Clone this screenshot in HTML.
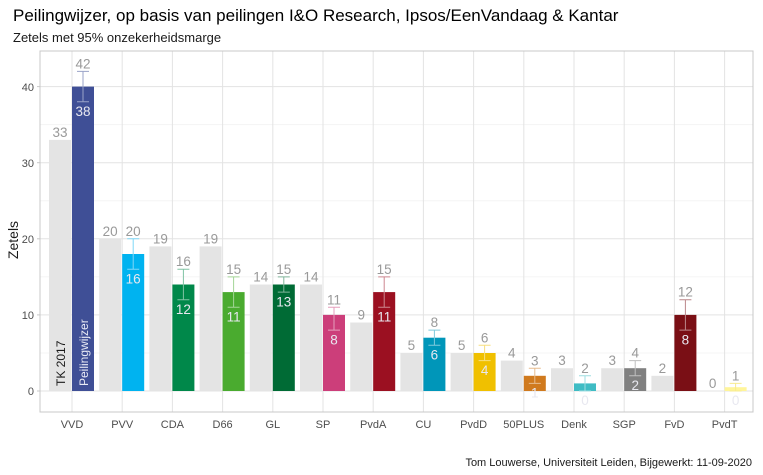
<!DOCTYPE html>
<html><head><meta charset="utf-8"><style>
body{margin:0;background:#fff;width:763px;height:475px;overflow:hidden}
svg{display:block;font-family:"Liberation Sans",Arial,sans-serif}
</style></head><body>
<svg width="763" height="475" viewBox="0 0 763 475">
<text x="13" y="21" font-size="17" fill="#000">Peilingwijzer, op basis van peilingen I&amp;O Research, Ipsos/EenVandaag &amp; Kantar</text>
<text x="13" y="42" font-size="13" fill="#1a1a1a">Zetels met 95% onzekerheidsmarge</text>
<rect x="40" y="51" width="713" height="361" fill="#fff"/>
<g stroke="#f2f2f2" stroke-width="0.8">
<line x1="40" x2="753" y1="353" y2="353"/><line x1="40" x2="753" y1="276.9" y2="276.9"/><line x1="40" x2="753" y1="200.8" y2="200.8"/><line x1="40" x2="753" y1="124.7" y2="124.7"/>
</g>
<g stroke="#e3e3e3" stroke-width="1">
<line x1="40" x2="753" y1="391" y2="391"/><line x1="40" x2="753" y1="314.9" y2="314.9"/><line x1="40" x2="753" y1="238.8" y2="238.8"/><line x1="40" x2="753" y1="162.7" y2="162.7"/><line x1="40" x2="753" y1="86.6" y2="86.6"/>
<line x1="72" x2="72" y1="51" y2="412"/><line x1="122.2" x2="122.2" y1="51" y2="412"/><line x1="172.4" x2="172.4" y1="51" y2="412"/><line x1="222.6" x2="222.6" y1="51" y2="412"/><line x1="272.8" x2="272.8" y1="51" y2="412"/><line x1="323" x2="323" y1="51" y2="412"/><line x1="373.2" x2="373.2" y1="51" y2="412"/><line x1="423.4" x2="423.4" y1="51" y2="412"/><line x1="473.6" x2="473.6" y1="51" y2="412"/><line x1="523.8" x2="523.8" y1="51" y2="412"/><line x1="574" x2="574" y1="51" y2="412"/><line x1="624.2" x2="624.2" y1="51" y2="412"/><line x1="674.4" x2="674.4" y1="51" y2="412"/><line x1="724.6" x2="724.6" y1="51" y2="412"/>
</g>
<rect x="40" y="51" width="713" height="361" fill="none" stroke="#c8c8c8"/>
<!-- gray TK bars -->
<g fill="#e4e4e4">
<rect x="49" y="139.9" width="22" height="251.1"/>
<rect x="99.2" y="238.8" width="22" height="152.2"/>
<rect x="149.4" y="246.4" width="22" height="144.6"/>
<rect x="199.6" y="246.4" width="22" height="144.6"/>
<rect x="249.8" y="284.5" width="22" height="106.5"/>
<rect x="300" y="284.5" width="22" height="106.5"/>
<rect x="350.2" y="322.5" width="22" height="68.5"/>
<rect x="400.4" y="353" width="22" height="38"/>
<rect x="450.6" y="353" width="22" height="38"/>
<rect x="500.8" y="360.6" width="22" height="30.4"/>
<rect x="551" y="368.2" width="22" height="22.8"/>
<rect x="601.2" y="368.2" width="22" height="22.8"/>
<rect x="651.4" y="375.8" width="22" height="15.2"/>
</g>
<!-- colored bars -->
<rect x="72" y="86.6" width="22" height="304.4" fill="#3f4f96"/>
<rect x="122.2" y="254" width="22" height="137" fill="#00b3f0"/>
<rect x="172.4" y="284.5" width="22" height="106.5" fill="#00884a"/>
<rect x="222.6" y="292.1" width="22" height="98.9" fill="#4aab2f"/>
<rect x="272.8" y="284.5" width="22" height="106.5" fill="#006b35"/>
<rect x="323" y="314.9" width="22" height="76.1" fill="#cc3e7a"/>
<rect x="373.2" y="292.1" width="22" height="98.9" fill="#9b1021"/>
<rect x="423.4" y="337.7" width="22" height="53.3" fill="#0096b9"/>
<rect x="473.6" y="353" width="22" height="38" fill="#f0c000"/>
<rect x="523.8" y="375.8" width="22" height="15.2" fill="#d07a1e"/>
<rect x="574" y="383.4" width="22" height="7.6" fill="#3fbcc4"/>
<rect x="624.2" y="368.2" width="22" height="22.8" fill="#808080"/>
<rect x="674.4" y="314.9" width="22" height="76.1" fill="#7a0f15"/>
<rect x="724.6" y="387.2" width="22" height="3.8" fill="#fff59a"/>
<!-- error bars -->
<g fill="none" stroke-width="1">
<path d="M77 71.4H89M83 71.4V101.8M77 101.8H89" stroke="#9aa3c8"/>
<path d="M127.2 238.8H139.2M133.2 238.8V269.2M127.2 269.2H139.2" stroke="#80d8f7"/>
<path d="M177.4 269.2H189.4M183.4 269.2V299.7M177.4 299.7H189.4" stroke="#80c3a4"/>
<path d="M227.6 276.9H239.6M233.6 276.9V307.3M227.6 307.3H239.6" stroke="#a4d597"/>
<path d="M277.8 276.9H289.8M283.8 276.9V292.1M277.8 292.1H289.8" stroke="#80b59a"/>
<path d="M328 307.3H340M334 307.3V330.1M328 330.1H340" stroke="#e59ebc"/>
<path d="M378.2 276.9H390.2M384.2 276.9V307.3M378.2 307.3H390.2" stroke="#cd8790"/>
<path d="M428.4 330.1H440.4M434.4 330.1V345.3M428.4 345.3H440.4" stroke="#80cadc"/>
<path d="M478.6 345.3H490.6M484.6 345.3V360.6M478.6 360.6H490.6" stroke="#f7df80"/>
<path d="M528.8 368.2H540.8M534.8 368.2V383.4M528.8 383.4H540.8" stroke="#e7bc8e"/>
<path d="M579 375.8H591M585 375.8V391M579 391H591" stroke="#9fdde1"/>
<path d="M629.2 360.6H641.2M635.2 360.6V375.8M629.2 375.8H641.2" stroke="#bfbfbf"/>
<path d="M679.4 299.7H691.4M685.4 299.7V330.1M679.4 330.1H691.4" stroke="#bc878a"/>
<path d="M729.6 383.4H741.6M735.6 383.4V391M729.6 391H741.6" stroke="#f7eb90"/>
</g>
<!-- labels -->
<g font-size="13.5" text-anchor="middle" fill="#999">
<text x="60" y="137">33</text><text x="110.2" y="236">20</text><text x="160.4" y="243.5">19</text><text x="210.6" y="243.5">19</text><text x="260.8" y="281.5">14</text><text x="311" y="281.5">14</text><text x="361.2" y="319.5">9</text><text x="411.4" y="350">5</text><text x="461.6" y="350">5</text><text x="511.8" y="357.5">4</text><text x="562" y="365">3</text><text x="612.2" y="365">3</text><text x="662.4" y="373">2</text><text x="712.6" y="388">0</text>
<text x="83" y="68.5">42</text><text x="133.2" y="236">20</text><text x="183.4" y="266">16</text><text x="233.6" y="274">15</text><text x="283.8" y="274">15</text><text x="334" y="304.5">11</text><text x="384.2" y="274">15</text><text x="434.4" y="327">8</text><text x="484.6" y="342.5">6</text><text x="534.8" y="365.5">3</text><text x="585" y="373">2</text><text x="635.2" y="357.5">4</text><text x="685.4" y="296.5">12</text><text x="735.6" y="380.5">1</text>
</g>
<g font-size="13.5" text-anchor="middle" fill="#e8e8f0">
<text x="83" y="116">38</text><text x="133.2" y="283.5">16</text><text x="183.4" y="314">12</text><text x="233.6" y="321.5">11</text><text x="283.8" y="306.5">13</text><text x="334" y="344.5">8</text><text x="384.2" y="321.5">11</text><text x="434.4" y="359.5">6</text><text x="484.6" y="375">4</text><text x="534.8" y="397.5">1</text><text x="585" y="405">0</text><text x="635.2" y="390">2</text><text x="685.4" y="344.5">8</text><text x="735.6" y="405">0</text>
</g>
<text transform="translate(65,386) rotate(-90)" font-size="12" fill="#1a1a1a">TK 2017</text>
<text transform="translate(88,386) rotate(-90)" font-size="12" fill="#e8eaf5">Peilingwijzer</text>
<!-- axes -->
<g font-size="11" fill="#4d4d4d" text-anchor="end">
<text x="34" y="395">0</text><text x="34" y="319">10</text><text x="34" y="243">20</text><text x="34" y="167">30</text><text x="34" y="91">40</text>
</g>
<g stroke="#c8c8c8"><line x1="37" x2="40" y1="391" y2="391"/><line x1="37" x2="40" y1="314.9" y2="314.9"/><line x1="37" x2="40" y1="238.8" y2="238.8"/><line x1="37" x2="40" y1="162.7" y2="162.7"/><line x1="37" x2="40" y1="86.6" y2="86.6"/></g>
<text transform="translate(18,240) rotate(-90)" font-size="14" fill="#1a1a1a" text-anchor="middle">Zetels</text>
<g font-size="11" fill="#4d4d4d" text-anchor="middle">
<text x="72" y="428">VVD</text><text x="122.2" y="428">PVV</text><text x="172.4" y="428">CDA</text><text x="222.6" y="428">D66</text><text x="272.8" y="428">GL</text><text x="323" y="428">SP</text><text x="373.2" y="428">PvdA</text><text x="423.4" y="428">CU</text><text x="473.6" y="428">PvdD</text><text x="523.8" y="428">50PLUS</text><text x="574" y="428">Denk</text><text x="624.2" y="428">SGP</text><text x="674.4" y="428">FvD</text><text x="724.6" y="428">PvdT</text>
</g>
<text x="752" y="466" font-size="11" fill="#1a1a1a" text-anchor="end">Tom Louwerse, Universiteit Leiden, Bijgewerkt: 11-09-2020</text>
</svg>
</body></html>
